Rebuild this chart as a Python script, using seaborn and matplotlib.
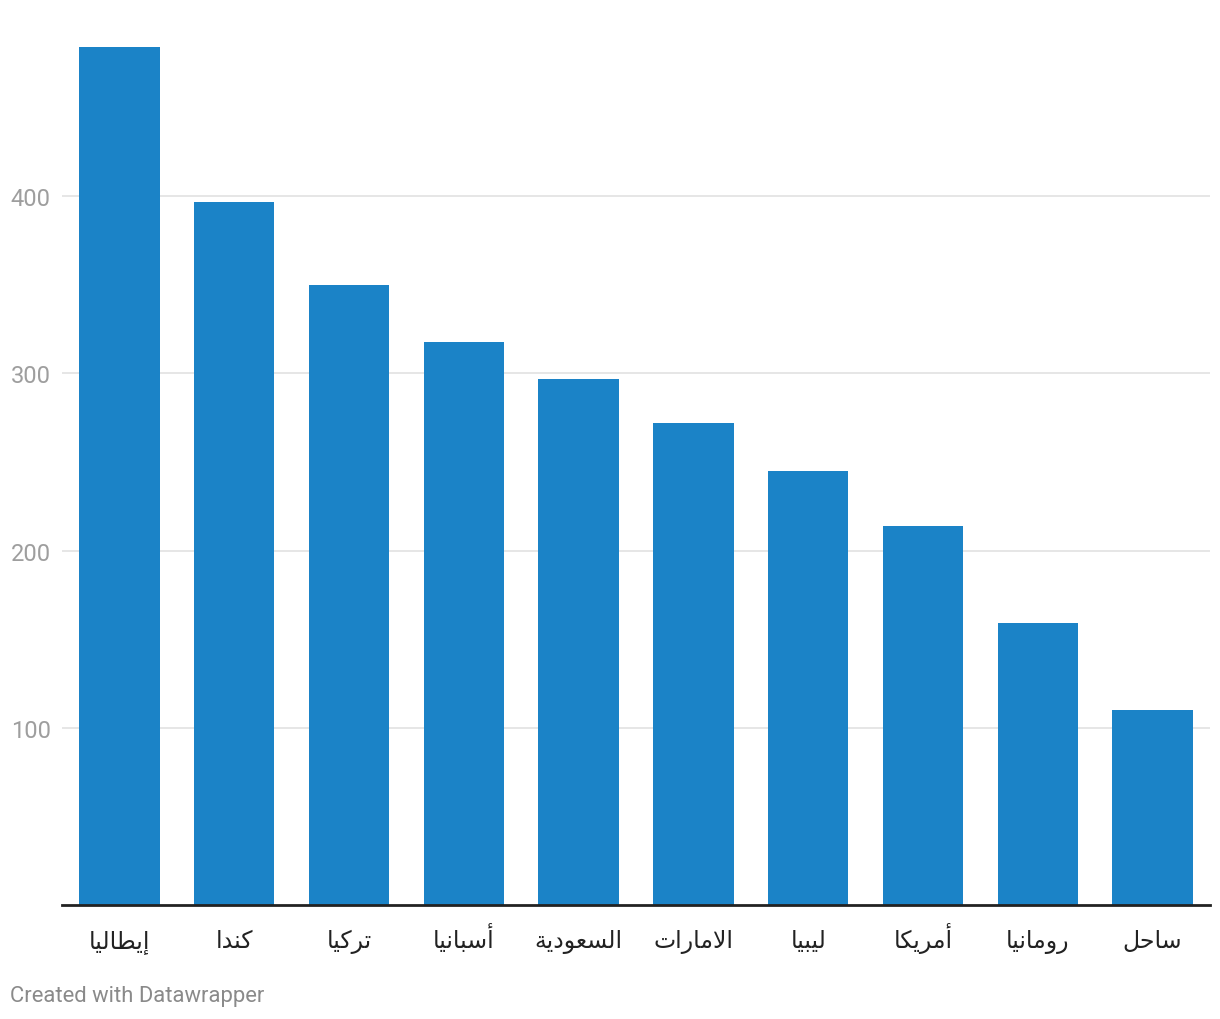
import matplotlib
matplotlib.use("Agg")
import matplotlib.pyplot as plt
import seaborn as sns
import pandas as pd

countries = ["إيطاليا", "كندا", "تركيا", "أسبانيا", "السعودية",
             "الامارات", "ليبيا", "أمريكا", "رومانيا", "ساحل"]
values = [484, 397, 350, 318, 297, 272, 245, 214, 159, 110]
yticks = [100, 200, 300, 400]

BAR_COLOR = "#1b83c7"

# Arabic presentation forms: (isolated, final, initial, medial); None = joins right only
FORMS = {
    "ا": (0xFE8D, 0xFE8E, None, None), "أ": (0xFE83, 0xFE84, None, None),
    "إ": (0xFE87, 0xFE88, None, None), "ب": (0xFE8F, 0xFE90, 0xFE91, 0xFE92),
    "ة": (0xFE93, 0xFE94, None, None), "ت": (0xFE95, 0xFE96, 0xFE97, 0xFE98),
    "ح": (0xFEA1, 0xFEA2, 0xFEA3, 0xFEA4), "د": (0xFEA9, 0xFEAA, None, None),
    "ر": (0xFEAD, 0xFEAE, None, None), "س": (0xFEB1, 0xFEB2, 0xFEB3, 0xFEB4),
    "ط": (0xFEC1, 0xFEC2, 0xFEC3, 0xFEC4), "ع": (0xFEC9, 0xFECA, 0xFECB, 0xFECC),
    "ك": (0xFED9, 0xFEDA, 0xFEDB, 0xFEDC), "ل": (0xFEDD, 0xFEDE, 0xFEDF, 0xFEE0),
    "م": (0xFEE1, 0xFEE2, 0xFEE3, 0xFEE4), "ن": (0xFEE5, 0xFEE6, 0xFEE7, 0xFEE8),
    "و": (0xFEED, 0xFEEE, None, None), "ي": (0xFEF1, 0xFEF2, 0xFEF3, 0xFEF4),
}
LAM_ALEF = {"ا": (0xFEFB, 0xFEFC), "أ": (0xFEF7, 0xFEF8), "إ": (0xFEF9, 0xFEFA)}


def dual(ch):
    return ch in FORMS and FORMS[ch][2] is not None


def shape(word):
    """Contextual shaping + reverse, since matplotlib has no bidi support."""
    out = []
    i = 0
    while i < len(word):
        ch = word[i]
        prev_joins = i > 0 and dual(word[i - 1])
        if ch == "ل" and i + 1 < len(word) and word[i + 1] in LAM_ALEF:
            iso, fin = LAM_ALEF[word[i + 1]]
            out.append(chr(fin if prev_joins else iso))
            i += 2
            continue
        nxt = word[i + 1] if i + 1 < len(word) else None
        next_joins = dual(ch) and nxt in FORMS
        iso, fin, ini, med = FORMS[ch]
        if prev_joins and next_joins:
            code = med
        elif prev_joins:
            code = fin
        elif next_joins:
            code = ini
        else:
            code = iso
        out.append(chr(code))
        i += 1
    return "".join(reversed(out))


df = pd.DataFrame({"country": countries, "value": values})

sns.set_theme(style="white")
plt.rcParams["font.family"] = ["Roboto", "DejaVu Sans"]

fig = plt.figure(figsize=(12.2, 10.2), dpi=100)
ax = fig.add_axes([62 / 1220, 1 - 906 / 1020, 1148 / 1220, (906 - 20) / 1020])

sns.barplot(data=df, x="country", y="value", color=BAR_COLOR, width=0.7,
            saturation=1, linewidth=0, ax=ax, zorder=3)

ax.set_xlim(-0.5, 9.5)
ax.set_ylim(0, 500)
ax.set_yticks(yticks)
ax.set_yticklabels([str(t) for t in yticks], color="#9e9e9e", fontsize=17)
ax.yaxis.grid(True, color="#e2e2e2", linewidth=1.2, zorder=0)
ax.tick_params(axis="y", length=0, pad=8)
ax.tick_params(axis="x", length=0, pad=30)
ax.set_xticks(range(len(countries)))
ax.set_xticklabels([shape(c) for c in countries], fontsize=17, color="#222222")
for lbl in ax.get_xticklabels():
    lbl.set_va("baseline")
ax.set_xlabel("")
ax.set_ylabel("")

for side in ["top", "right", "left"]:
    ax.spines[side].set_visible(False)
ax.spines["bottom"].set_color("#222222")
ax.spines["bottom"].set_linewidth(2)
ax.spines["bottom"].set_zorder(4)

fig.text(10 / 1220, 1 - 997 / 1020, "Created with Datawrapper", color="#8a8a8a",
         fontsize=15.8, va="center", ha="left")

fig.savefig("out.png", dpi=100)
